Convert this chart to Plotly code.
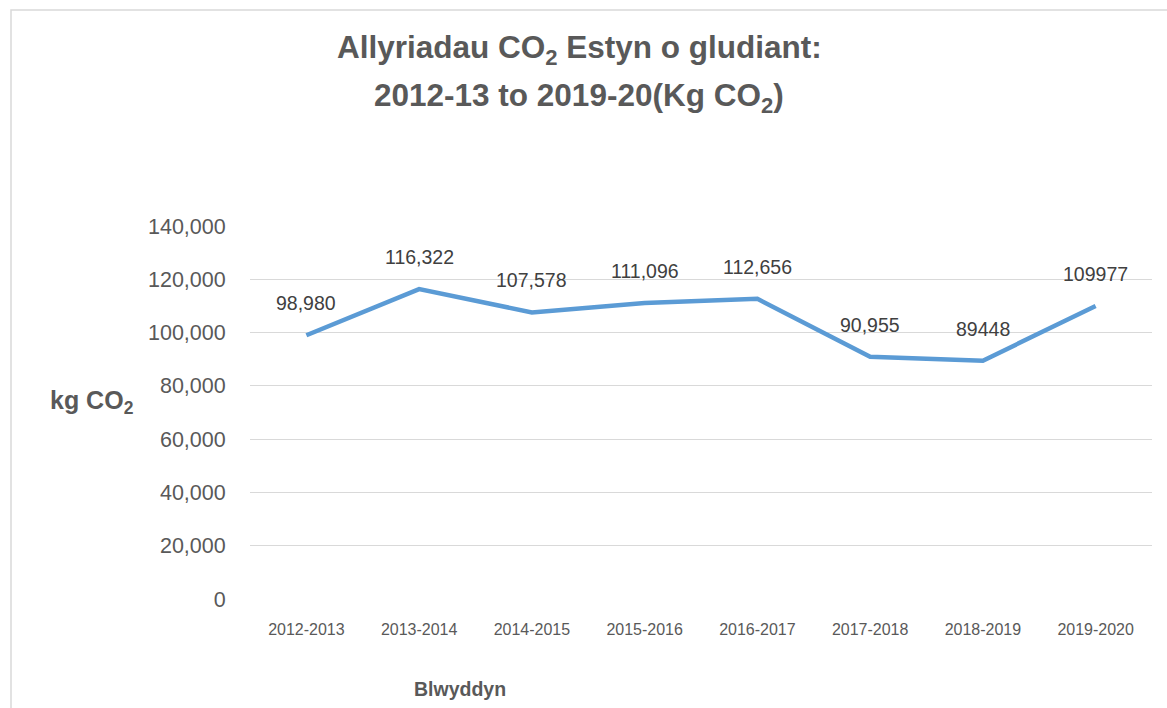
import plotly.graph_objects as go

years = ["2012-2013", "2013-2014", "2014-2015", "2015-2016",
         "2016-2017", "2017-2018", "2018-2019", "2019-2020"]
emissions = [98980, 116322, 107578, 111096, 112656, 90955, 89448, 109977]
labels = ["98,980", "116,322", "107,578", "111,096", "112,656", "90,955", "89448", "109977"]
y_ticks = [0, 20000, 40000, 60000, 80000, 100000, 120000, 140000]

W, H = 1167, 708
L, R, T, B = 250, 15, 226, 109
pw, ph = W - L - R, H - T - B

fig = go.Figure()
fig.add_trace(go.Scatter(
    x=years, y=emissions, mode="lines",
    line=dict(color="#5B9BD5", width=4.5),
    hoverinfo="x+y", showlegend=False,
))

for xv, yv, lab in zip(years, emissions, labels):
    fig.add_annotation(x=xv, y=yv, text=lab, showarrow=False, yshift=32,
                       font=dict(family="Liberation Sans, Arial", size=19.5, color="#404040"))

def px_x(p):
    return (p - L) / pw

def px_y(p):
    return (H - B - p) / ph

FONT = "Liberation Sans, Arial"

# title (two lines)
fig.add_annotation(xref="paper", yref="paper", x=px_x(579), y=px_y(50),
                   xanchor="center", yanchor="middle",
                   text="<b>Allyriadau CO<sub>2</sub> Estyn o gludiant:</b>", showarrow=False,
                   font=dict(family=FONT, size=31.5, color="#595959"))
fig.add_annotation(xref="paper", yref="paper", x=px_x(579), y=px_y(97),
                   xanchor="center", yanchor="middle",
                   text="<b>2012-13 to 2019-20(Kg CO<sub>2</sub>)</b>", showarrow=False,
                   font=dict(family=FONT, size=31.5, color="#595959"))

# axis titles
fig.add_annotation(xref="paper", yref="paper", x=px_x(92), y=px_y(402),
                   xanchor="center", yanchor="middle",
                   text="<b>kg CO<sub>2</sub></b>", showarrow=False,
                   font=dict(family=FONT, size=25, color="#595959"))
fig.add_annotation(xref="paper", yref="paper", x=px_x(460), y=px_y(689),
                   xanchor="center", yanchor="middle",
                   text="<b>Blwyddyn</b>", showarrow=False,
                   font=dict(family=FONT, size=19.5, color="#595959"))

# chart border
fig.add_shape(type="rect", xref="paper", yref="paper",
              x0=px_x(11), x1=px_x(1180), y0=px_y(720), y1=px_y(10),
              line=dict(color="#D9D9D9", width=1.5), fillcolor="rgba(0,0,0,0)", layer="below")

fig.update_layout(
    width=W, height=H,
    margin=dict(l=L, r=R, t=T, b=B),
    paper_bgcolor="white", plot_bgcolor="white",
    xaxis=dict(
        type="category", range=[-0.5, 7.5], showgrid=False, showline=False, zeroline=False,
        ticks="outside", ticklen=16, tickcolor="rgba(0,0,0,0)",
        tickfont=dict(family=FONT, size=16, color="#595959"),
    ),
    yaxis=dict(
        range=[0, 140000], tickvals=y_ticks, tickformat=",", showgrid=True,
        gridcolor="#D9D9D9", gridwidth=1.2, zeroline=False, showline=False,
        ticks="outside", ticklen=19, tickcolor="rgba(0,0,0,0)",
        tickfont=dict(family=FONT, size=21.5, color="#595959"),
    ),
)

fig.write_html("out.html", config={"displayModeBar": False},
               post_script="document.body.style.margin='0';document.body.style.padding='0';")
